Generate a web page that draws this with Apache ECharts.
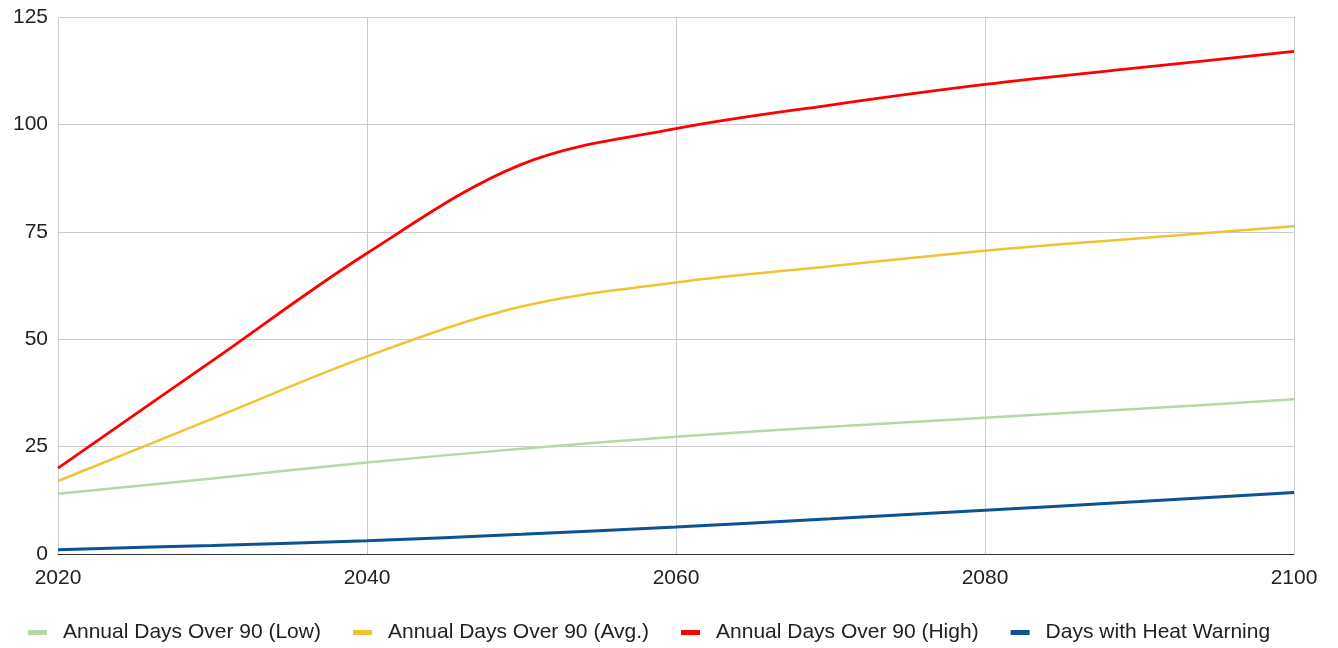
<!DOCTYPE html>
<html>
<head>
<meta charset="utf-8">
<script src="https://cdn.jsdelivr.net/npm/echarts@6/dist/echarts.min.js"></script>
<style>
  html, body { margin: 0; padding: 0; background: #fff; }
  #chart { width: 1338px; height: 648px; }
</style>
</head>
<body>
<div id="chart"></div>
<script>
// Projected yearly heat days, sampled every 10 years
const years = [2020, 2030, 2040, 2050, 2060, 2070, 2080, 2090, 2100];
const daysOver90Low  = [14, 17.6, 21.3, 24.5, 27.3, 29.6, 31.7, 33.8, 36];
const daysOver90Avg  = [17, 31.5, 46, 57.6, 63.2, 67, 70.6, 73.5, 76.3];
const daysOver90High = [20, 45, 70, 90.7, 99, 104.5, 109.3, 113.2, 117];
const heatWarningDays = [1, 2, 3.1, 4.6, 6.3, 8.2, 10.2, 12.2, 14.3];

const seriesNames = [
  'Annual Days Over 90 (Low)',
  'Annual Days Over 90 (Avg.)',
  'Annual Days Over 90 (High)',
  'Days with Heat Warning'
];

const pair = arr => years.map((y, i) => [y, arr[i]]);

const font = '"Liberation Sans", Arial, sans-serif';

const chart = echarts.init(document.getElementById('chart'), null, { renderer: 'canvas' });

function lineSeries(name, values, color, width) {
  return {
    name: name,
    type: 'line',
    data: pair(values),
    smooth: 0.35,
    showSymbol: false,
    symbol: 'none',
    lineStyle: { color: color, width: width },
    itemStyle: { color: color },
    animation: false
  };
}

chart.setOption({
  animation: false,
  grid: { left: 58, right: 44, top: 17, bottom: 94, containLabel: false },
  legend: {
    top: 622,
    left: 28,
    itemWidth: 19,
    itemHeight: 5,
    itemGap: 32,
    icon: 'rect',
    padding: 0,
    textStyle: {
      fontFamily: font, fontSize: 21, color: '#222',
      padding: [0, 0, 0, 11]
    },
    data: seriesNames
  },
  xAxis: {
    type: 'value',
    min: 2020,
    max: 2100,
    interval: 20,
    axisLine: { show: true, lineStyle: { color: '#333', width: 1 } },
    axisTick: { show: false },
    axisLabel: {
      fontFamily: font, fontSize: 21, color: '#222', margin: 14,
      formatter: v => String(v)
    },
    splitLine: { show: true, lineStyle: { color: '#cccccc', width: 1 } }
  },
  yAxis: {
    type: 'value',
    min: 0,
    max: 125,
    interval: 25,
    axisLine: { show: false },
    axisTick: { show: false },
    axisLabel: { fontFamily: font, fontSize: 21, color: '#222', margin: 10 },
    splitLine: { show: true, lineStyle: { color: '#cccccc', width: 1 } }
  },
  series: [
    lineSeries(seriesNames[0], daysOver90Low, '#b6d7a8', 2.5),
    lineSeries(seriesNames[1], daysOver90Avg, '#f1c232', 2.5),
    lineSeries(seriesNames[2], daysOver90High, '#ff0000', 2.8),
    lineSeries(seriesNames[3], heatWarningDays, '#0b5394', 3)
  ]
});
</script>
</body>
</html>
